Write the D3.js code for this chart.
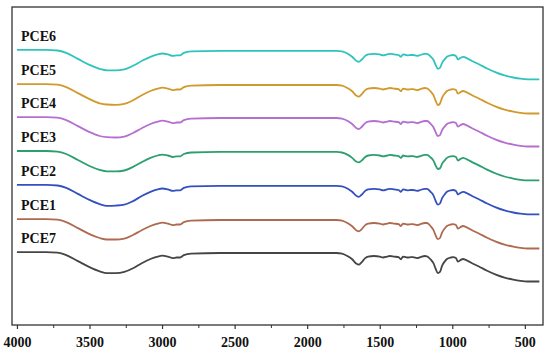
<!DOCTYPE html>
<html lang="en">
<head>
<meta charset="UTF-8">
<title>FTIR spectra PCE1-PCE7</title>
<script src="https://cdnjs.cloudflare.com/ajax/libs/d3/7.8.5/d3.min.js"></script>
<style>
  body { margin: 0; background: #fff; }
  .tick text { font-family: "Times New Roman", "Liberation Serif", serif; font-weight: bold; font-size: 14px; fill: #111; }
  .lbl { font-family: "Times New Roman", "Liberation Serif", serif; font-weight: bold; font-size: 14px; fill: #111; }
</style>
</head>
<body>
<div id="chart"></div>
<script>
// wavenumber grid (cm-1), shared by all spectra
const wavenumber = [4000, 3800, 3720, 3660, 3580, 3500, 3430, 3380, 3320, 3260,
  3200, 3140, 3080, 3030, 3000, 2960, 2925, 2900, 2875, 2850,
  2800, 2600, 2200, 1800, 1760, 1720, 1690, 1660, 1645, 1625,
  1600, 1580, 1540, 1500, 1477, 1450, 1430, 1400, 1370, 1354,
  1340, 1320, 1305, 1285, 1271, 1243, 1220, 1190, 1174, 1150,
  1130, 1115, 1100, 1085, 1070, 1050, 1037, 1010, 995, 975,
  961, 945, 925, 912, 890, 864, 820, 760, 700, 640,
  580, 530, 480, 440, 400];

// transmittance (a.u.)
const pce6 = [10,10,9.8,9.0,7.0,5.0,3.7,3.2,3.2,3.5, 4.7,6.3,7.7,8.5,8.8,8.5,8.0,8.2,8.2,9.0,
  9.5,9.7,9.7,9.7,9.5,8.7,7.7,6.3,6.0,6.7, 8.0,8.5,8.7,8.5,8.2,8.5,8.7,8.5,8.3,7.7,
  8.5,8.3,8.2,8.3,8.3,8.0,8.3,8.7,8.7,7.8, 6.7,5.0,3.7,4.0,5.7,7.0,7.7,8.2,8.3,8.0,
  6.8,7.3,7.7,7.5,7.0,6.3,5.3,3.8,2.5,1.5, 0.8,0.4,0.2,0.2,0.2];
const pce5 = [10,10,9.8,9.0,7.0,5.0,3.6,3.2,3.1,3.4, 4.6,6.3,7.7,8.5,8.8,8.5,8.0,8.2,8.2,9.0,
  9.5,9.7,9.7,9.7,9.5,8.6,7.6,6.1,5.8,6.6, 8.0,8.5,8.7,8.5,8.2,8.5,8.7,8.5,8.3,7.6,
  8.5,8.3,8.2,8.3,8.3,8.0,8.3,8.7,8.6,7.6, 6.3,4.5,3.0,3.5,5.5,7.0,7.7,8.2,8.3,8.0,
  6.8,7.3,7.7,7.5,7.0,6.3,5.3,3.8,2.5,1.5, 0.8,0.4,0.2,0.2,0.2];
const pce4 = [10,10,9.8,9.0,7.0,5.0,3.7,3.3,3.2,3.5, 4.7,6.3,7.7,8.5,8.8,8.5,8.0,8.2,8.2,9.0,
  9.5,9.7,9.7,9.7,9.5,8.7,7.7,6.3,6.0,6.7, 8.0,8.5,8.7,8.5,8.2,8.5,8.7,8.5,8.3,7.7,
  8.5,8.3,8.2,8.3,8.3,8.0,8.3,8.7,8.7,7.8, 6.6,5.0,3.7,4.0,5.7,7.0,7.7,8.2,8.3,8.0,
  6.8,7.3,7.7,7.5,7.0,6.3,5.3,3.8,2.5,1.5, 0.8,0.4,0.2,0.2,0.2];
const pce3 = [10,10,9.8,9.0,7.0,5.0,3.7,3.2,3.2,3.5, 4.7,6.3,7.7,8.5,8.8,8.5,8.0,8.2,8.2,9.0,
  9.5,9.7,9.7,9.7,9.5,8.7,7.7,6.4,6.2,6.8, 8.0,8.5,8.7,8.5,8.2,8.5,8.7,8.5,8.3,7.7,
  8.5,8.3,8.2,8.3,8.3,8.0,8.3,8.7,8.7,7.9, 6.8,5.2,4.0,4.2,5.8,7.0,7.7,8.2,8.3,8.0,
  6.8,7.3,7.7,7.5,7.0,6.3,5.3,3.8,2.5,1.5, 0.8,0.4,0.2,0.2,0.2];
const pce2 = [10,10,9.8,9.0,7.0,5.0,3.6,3.0,3.1,3.4, 4.6,6.3,7.7,8.5,8.8,8.5,8.0,8.2,8.2,9.0,
  9.5,9.7,9.7,9.7,9.5,8.7,7.7,6.3,6.0,6.7, 8.0,8.5,8.7,8.5,8.2,8.5,8.7,8.5,8.3,7.7,
  8.5,8.3,8.2,8.3,8.3,8.0,8.3,8.7,8.7,7.7, 6.5,4.7,3.4,3.8,5.6,7.0,7.7,8.2,8.3,8.0,
  6.8,7.3,7.7,7.5,7.0,6.3,5.3,3.8,2.5,1.5, 0.8,0.4,0.2,0.2,0.2];
const pce1 = [10,10,9.8,9.0,7.0,5.0,3.7,3.2,3.2,3.5, 4.7,6.3,7.7,8.5,8.8,8.5,8.0,8.2,8.2,9.0,
  9.5,9.7,9.7,9.7,9.5,8.6,7.6,6.2,5.9,6.6, 8.0,8.5,8.7,8.5,8.2,8.5,8.7,8.5,8.3,7.7,
  8.5,8.3,8.2,8.3,8.3,8.0,8.3,8.7,8.7,7.7, 6.4,4.6,3.3,3.7,5.6,7.0,7.7,8.2,8.3,8.0,
  6.8,7.3,7.7,7.5,7.0,6.3,5.3,3.8,2.5,1.5, 0.8,0.4,0.2,0.2,0.2];
const pce7 = [10,10,9.8,9.0,7.0,5.0,3.6,3.0,3.0,3.4, 4.6,6.3,7.7,8.5,8.8,8.5,8.0,8.2,8.2,9.0,
  9.5,9.7,9.7,9.7,9.5,8.6,7.6,6.1,5.8,6.6, 8.0,8.5,8.7,8.5,8.2,8.5,8.7,8.5,8.3,7.6,
  8.5,8.3,8.2,8.3,8.3,8.0,8.3,8.7,8.6,7.6, 6.3,4.5,3.0,3.4,5.5,7.0,7.7,8.2,8.3,8.0,
  6.8,7.3,7.7,7.5,7.0,6.3,5.3,3.8,2.5,1.5, 0.8,0.4,0.2,0.2,0.2];

const names = ["PCE6", "PCE5", "PCE4", "PCE3", "PCE2", "PCE1", "PCE7"];
const spectra = [pce6, pce5, pce4, pce3, pce2, pce1, pce7];
const stackOffset = [81.7, 70.3, 59.3, 48.0, 36.7, 25.3, 14.3];
const colors = ["#2fc3bd", "#d19a2c", "#b46fcf", "#2b9f6d", "#3350bf", "#ad6a4f", "#454545"];
const majorTicks = [4000, 3500, 3000, 2500, 2000, 1500, 1000, 500];
const minorTicks = [3750, 3250, 2750, 2250, 1750, 1250, 750];

const width = 550, height = 354;
const m = {left: 12, right: 7, top: 7, bottom: 29};

const svg = d3.select("#chart").append("svg")
  .attr("width", width).attr("height", height);

const x = d3.scaleLinear().domain([4034, 375]).range([m.left, width - m.right]);
const y = d3.scaleLinear().domain([0, 106]).range([height - m.bottom, m.top]);

const line = d3.line()
  .x(d => x(d[0]))
  .y(d => y(d[1]))
  .curve(d3.curveMonotoneX);

spectra.forEach((vals, i) => {
  const pts = wavenumber.map((w, j) => [w, vals[j] + stackOffset[i]]);
  svg.append("path")
    .datum(pts)
    .attr("fill", "none")
    .attr("stroke", colors[i])
    .attr("stroke-width", 1.8)
    .attr("stroke-linejoin", "round")
    .attr("d", line);

  svg.append("text")
    .attr("class", "lbl")
    .attr("x", 21)
    .attr("y", y(10 + stackOffset[i]) - 9)
    .text(names[i]);
});

// frame
svg.append("rect")
  .attr("x", m.left).attr("y", m.top)
  .attr("width", width - m.left - m.right)
  .attr("height", height - m.top - m.bottom)
  .attr("fill", "none")
  .attr("stroke", "#333")
  .attr("stroke-width", 1.3);

const xAxis = svg.append("g")
  .attr("transform", `translate(0,${height - m.bottom})`)
  .call(d3.axisBottom(x).tickValues(majorTicks).tickSize(4).tickPadding(8).tickFormat(d3.format("d")));
xAxis.select(".domain").remove();
xAxis.selectAll(".tick line").attr("stroke", "#333").attr("stroke-width", 1.2);

const minor = svg.append("g")
  .attr("transform", `translate(0,${height - m.bottom})`)
  .call(d3.axisBottom(x).tickValues(minorTicks).tickSize(3).tickFormat(""));
minor.select(".domain").remove();
minor.selectAll(".tick line").attr("stroke", "#333").attr("stroke-width", 1);
</script>
</body>
</html>
